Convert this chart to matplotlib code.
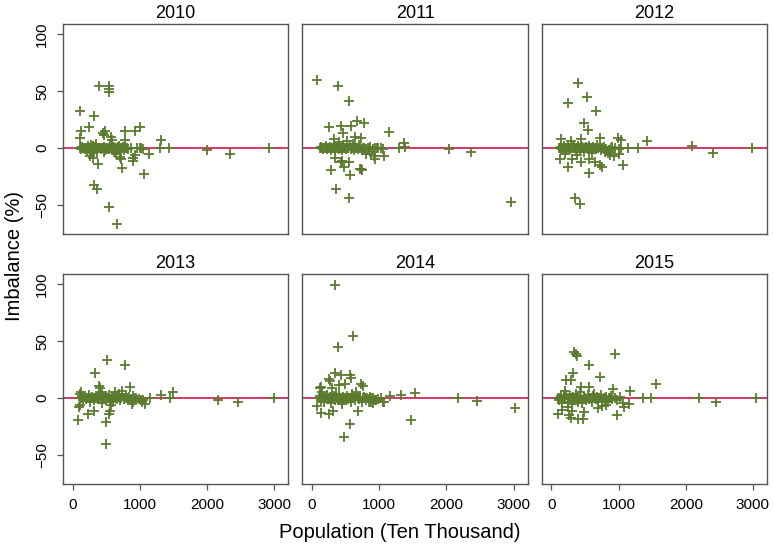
import matplotlib.pyplot as plt

plt.rcParams['font.family'] = ['Liberation Sans', 'DejaVu Sans']

years = ["2010", "2011", "2012", "2013", "2014", "2015"]

# population (ten thousand) and imbalance (%)
x_2010 = [109, 124, 109, 388, 323, 249, 457, 487, 472, 547, 547, 537, 572, 582, 775, 924, 994, 775,
          1312, 1292, 1426, 1998, 2336, 2922, 1138, 1064, 726, 706, 716, 890, 900, 930, 263, 298,
          378, 323, 358, 547, 666, 280, 300, 620, 640,
          110, 125, 140, 160, 180, 200, 215, 230, 250, 265, 280, 300, 315, 330, 350, 365, 380, 400,
          420, 440, 460, 480, 500, 520, 540, 560, 580, 600, 620, 640, 660, 680, 700, 720, 750, 780,
          810, 830, 860, 1020, 1040, 270, 285, 345, 470, 690, 760,
          130, 170, 210, 245, 290, 320, 360, 410, 450, 510, 570, 610, 670, 735, 800, 950, 1000]
y_2010 = [32.9, 15.4, 8.7, 54.4, 28.5, 18.3, 13.1, 15.4, 11.5, 54.4, 51.5, 49.5, 9.6, 7.5, 15.4, 15.4, 18.3, 6.7,
          6.7, 0, 0, -2, -5.5, 0, -5, -22.4, -17.5, -8, -10, -11, -9, -6, -7, -9,
          -14, -32, -35.8, -52, -67, -4, -3, -3, -5,
          0, -1, 1, 0, -0.5, 0.5, -2, 1.5, 0, -1, 0, 2, -1.5, 0, 1, -3, 0, 0.5,
          -1, 0, 1, -2, 0, 0.5, -1, 2, 0, -0.5, 1, 0, -2, 0.5, 0, -1, 1, 0,
          0.5, -1, 0, 0, -1, 3, -2, 4, -3, 2, -2,
          0, 0, 0, 0, -1, 1, 0, 0, 0, -1, 0, 0, 1, 0, 0, 0, 0]

x_2011 = [75, 393, 547, 249, 432, 572, 676, 775, 462, 323, 641, 726, 1138, 1372, 1382, 1292, 2043, 2371,
          2957, 348, 450, 430, 552, 288, 477, 730, 750, 720, 567, 353, 552, 920, 944, 1074, 800, 880,
          400, 520, 610, 700,
          120, 140, 160, 180, 200, 220, 240, 260, 280, 300, 320, 340, 360, 380, 400, 420, 440, 460,
          480, 500, 520, 540, 560, 580, 600, 620, 640, 660, 680, 700, 720, 740, 760, 780, 800, 830,
          860, 900, 940, 980, 1020, 1050,
          130, 170, 210, 250, 290, 330, 370, 410, 450, 490, 530, 590, 650, 710, 770, 850, 960]
y_2011 = [60.2, 54.4, 41.3, 18.3, 19.5, 19.8, 24.2, 22.1, 13.1, 7.9, 9.3, 8.7, 14.5, 4.9, 1, 0, -1, -3,
          -47.4, -8.7, -11, -12.5, -12.2, -19.5, -16.9, -18.5, -19.5, -18, -24, -35.5, -44, -7, -9.3, -7, -5, -5,
          5, 6, 4, 3,
          0, 1, -1, 0, 2, -1, 0, 1, -2, 0, 0.5, -1, 0, 1.5, -0.5, 0, -2, 1,
          0, -1, 0.5, 0, 2, -1, 0, -1.5, 1, 0, -0.5, 0, 1, -2, 0, 0.5, -1, 0,
          1, -1, 0, 0.5, 0, -1,
          0, 0, 0, 0, 0, 0, 0, 0, 0, 0, 0, 0, 0, 0, 0, 0, 0]

x_2012 = [398, 244, 537, 671, 482, 547, 139, 288, 442, 726, 994, 1039, 1426, 2092, 2410, 2982, 1292, 1143,
          124, 253, 313, 437, 567, 651, 730, 760, 562, 1069, 353, 432, 870, 934, 1009, 200, 380, 600,
          120, 140, 160, 180, 200, 220, 240, 260, 280, 300, 320, 340, 360, 380, 400, 420, 440, 460,
          480, 500, 520, 540, 560, 580, 600, 620, 640, 660, 680, 700, 720, 740, 760, 780, 800, 820,
          840, 860, 880, 900, 950, 1000, 1040,
          130, 170, 210, 250, 290, 330, 370, 410, 450, 490, 530, 570, 610, 650, 690]
y_2012 = [57.3, 39.9, 45.1, 32.9, 22.4, 16.0, 7.9, 5.8, 7.9, 8.7, 8.7, 7.2, 6.4, 1.5, -4.7, 0, 0, 0,
          -9.3, -16.9, -9.6, -12, -9.3, -12, -15, -16.9, -21.8, -15.1, -44.2, -49.5, -6, -7, -5, -5, -6, -4,
          0, 1, -1, 2, 0, -2, 1, 0, -1, 3, 0, 1, -2, 0, 2, -1, 0, 1,
          -3, 0, 1, -1, 2, 0, -2, 1, 0, -1, 3, 0, 1, -2, 0, 1, -3, -1,
          -4, -2, 0, 1, 0, -1, 0,
          0, 0, 0, 0, 0, 0, 0, 0, 0, 0, 0, 0, 0, 0, 0]

x_2013 = [517, 785, 333, 388, 403, 109, 124, 845, 625, 740, 1317, 1491, 1441, 1153, 2157, 2455, 3000,
          84, 100, 115, 234, 318, 497, 547, 557, 497, 1029, 1069, 880, 895, 430, 690, 570,
          120, 140, 160, 180, 200, 220, 240, 260, 280, 300, 320, 340, 360, 380, 400, 420, 440, 460,
          480, 500, 520, 540, 560, 580, 600, 620, 640, 660, 680, 700, 720, 740, 760, 780, 800, 820,
          840, 860, 900, 940, 980, 1010, 1050,
          150, 210, 270, 330, 390, 450, 510, 610, 710, 810, 920]
y_2013 = [33.6, 28.7, 22.2, 11, 9, 4, 5, 9.5, 5, 6, 2.6, 5.8, 0, 0, -1.2, -3.5, 0,
          -19.6, -7.5, -6, -14, -11.4, -21.3, -14.3, -11.4, -40, -3.5, -5.5, -5, -3, 5, 4, -6,
          0, 2, -2, 1, -1, 0, 3, -3, 1, 0, -2, 2, 0, -1, 4, 1, -4, 0,
          2, -2, 0, 3, -1, 1, -3, 0, 2, -1, 1, -2, 0, 3, -1, 0, 2, -2,
          1, -1, 2, 0, -1, -2, -2,
          0, 0, 0, 0, 0, 0, 0, 0, 0, 0, 0]

x_2014 = [338, 611, 393, 343, 437, 570, 580, 253, 268, 124, 134, 298, 400, 492, 730, 760, 1158, 1327, 1530,
          2177, 2455, 3027, 1471, 562, 477, 75, 134, 248, 318, 691, 1074, 600, 650, 840, 900, 950,
          100, 120, 140, 160, 180, 200, 220, 240, 260, 280, 300, 320, 340, 360, 380, 400, 420, 440,
          460, 480, 500, 520, 540, 560, 580, 600, 620, 640, 660, 680, 700, 720, 740, 760, 780, 800,
          820, 840, 860, 880, 900, 940, 980, 1020, 1050, 150, 350, 450,
          130, 190, 250, 310, 370, 430, 490, 550, 630, 710, 790, 870]
y_2014 = [99.4, 54.7, 44.7, 22.2, 19.9, 20, 18, 17, 15.5, 9, 10, 9, 11.7, 12.6, 12, 11, 2.3, 3.2, 4.4,
          0, -2.9, -8.5, -19.6, -22.5, -34.2, -7.3, -13.2, -13.7, -11.7, -11.4, -3.5, 4, 5, -3, -4, -2,
          0, 2, -2, 1, -3, 0, 3, -1, 1, -4, 0, 2, -2, 1, -1, 3, 0, -3,
          1, -2, 0, 2, -1, 0, -3, 1, 0, -2, 2, 0, -1, 1, -3, 0, 1, -2,
          0, -1, 1, -3, 0, -2, -1, 0, -3, 5, 4, -5,
          0, 0, 0, 0, 0, 0, 0, 0, 0, 0, 0, 0]

x_2015 = [343, 388, 365, 954, 562, 328, 730, 214, 288, 1561, 442, 562, 924, 1173, 1357, 1486, 2197, 2450, 3047,
          104, 263, 288, 393, 472, 969, 1088, 1158, 690, 820, 480, 300, 760, 160,
          100, 120, 140, 160, 180, 200, 220, 240, 260, 280, 300, 320, 340, 360, 380, 400, 420, 440,
          460, 480, 500, 520, 540, 560, 580, 600, 620, 640, 660, 680, 700, 720, 740, 760, 780, 800,
          820, 840, 860, 880, 900, 940, 980, 1020, 1060, 200, 420, 640, 250,
          130, 190, 250, 310, 370, 430, 490, 550, 630, 710, 790, 870]
y_2015 = [40.4, 37.1, 38.5, 38.9, 28.7, 21.9, 19, 16, 16, 12.6, 10, 10, 8.2, 6.7, 0, 0, 0, -3.5, 0,
          -13.7, -15, -17, -18, -18, -14.6, -7.9, -5, -9, -6, -12, -11, -7, -10,
          0, -2, 2, -4, 1, -1, 3, -3, 0, 2, -5, 1, -2, 4, 0, -3, 2, -1,
          -4, 1, 0, -2, 3, -1, 0, -3, 2, 0, -1, 1, -2, 0, 3, -1, 0, -2,
          1, -3, 0, 2, -1, 0, -2, 1, -4, 6, 5, 4, -8,
          0, 0, 0, 0, 0, 0, 0, 0, 0, 0, 0, 0]

xs = [x_2010, x_2011, x_2012, x_2013, x_2014, x_2015]
ys = [y_2010, y_2011, y_2012, y_2013, y_2014, y_2015]

green = '#5b7b2f'
red = '#c8174a'

fig, axes = plt.subplots(2, 3, figsize=(7.74, 5.44), dpi=100, sharex=True, sharey=True)
plt.subplots_adjust(left=0.0814, right=0.991, top=0.956, bottom=0.110, wspace=0.062, hspace=0.19)

for i, ax in enumerate(axes.flat):
    ax.axhline(0, color=red, lw=1.2, zorder=1)
    ax.plot(xs[i], ys[i], '+', color=green, markersize=6.5, markeredgewidth=1.3, zorder=2)
    ax.set_title(years[i], fontsize=13, pad=4)
    ax.set_xlim(-145, 3210)
    ax.set_ylim(-75.5, 109)
    ax.set_xticks([0, 1000, 2000, 3000])
    ax.set_yticks([-50, 0, 50, 100])
    for s in ax.spines.values():
        s.set_color('#555555')
        s.set_linewidth(1)
    ax.tick_params(labelsize=11, length=4, width=0.9, color='#555555', pad=6)
    row, col = divmod(i, 3)
    if row == 0:
        ax.tick_params(axis='x', length=0)
    if col != 0:
        ax.tick_params(axis='y', length=0)
    for lab in ax.get_yticklabels():
        lab.set_rotation(90)
        lab.set_va('center')

fig.text(400 / 774, 1 - 532 / 544, "Population (Ten Thousand)", ha='center', va='center', fontsize=14.5)
fig.text(15 / 774, 1 - 256 / 544, "Imbalance (%)", ha='center', va='center', rotation=90, fontsize=14.5)

plt.savefig("out.png", dpi=100)
